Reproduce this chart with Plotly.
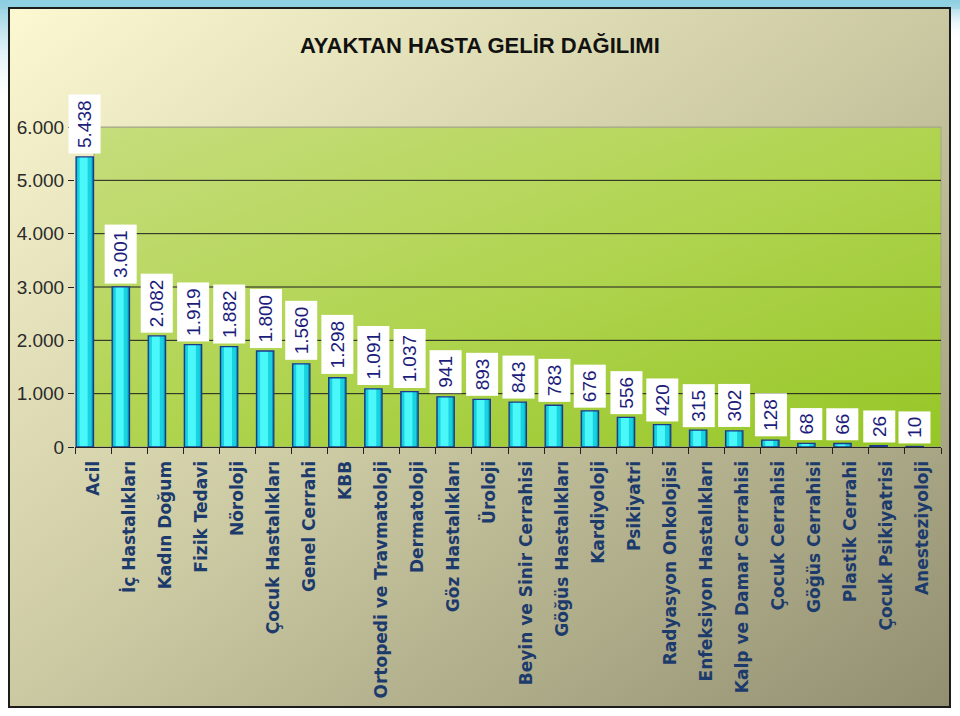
import base64
import plotly.graph_objects as go

categories = ["Acil", "İç Hastalıkları", "Kadın Doğum", "Fizik Tedavi", "Nöroloji",
              "Çocuk Hastalıkları", "Genel Cerrahi", "KBB", "Ortopedi ve Travmatoloji",
              "Dermatoloji", "Göz Hastalıkları", "Üroloji", "Beyin ve Sinir Cerrahisi",
              "Göğüs Hastalıkları", "Kardiyoloji", "Psikiyatri", "Radyasyon Onkolojisi",
              "Enfeksiyon Hastalıkları", "Kalp ve Damar Cerrahisi", "Çocuk Cerrahisi",
              "Göğüs Cerrahisi", "Plastik Cerrahi", "Çocuk Psikiyatrisi", "Anesteziyoloji"]
values = [5438, 3001, 2082, 1919, 1882, 1800, 1560, 1298, 1091, 1037, 941, 893, 843,
          783, 676, 556, 420, 315, 302, 128, 68, 66, 26, 10]
y_ticks = [0, 1000, 2000, 3000, 4000, 5000, 6000]
y_tick_labels = ["0", "1.000", "2.000", "3.000", "4.000", "5.000", "6.000"]
title = "AYAKTAN HASTA GELİR DAĞILIMI"

W, H = 960, 716
PX_L, PX_R, PX_T, PX_B = 75, 941, 127, 447
GREEN_L = 94


def fmt(v):
    return f"{v:,}".replace(",", ".")


svg = f"""<svg xmlns='http://www.w3.org/2000/svg' width='{W}' height='{H}' viewBox='0 0 {W} {H}' preserveAspectRatio='none'>
<defs>
<linearGradient id='bg' x1='0' y1='0' x2='1' y2='1'>
<stop offset='0' stop-color='#fbf8d2'/>
<stop offset='0.5' stop-color='#cbc9a2'/>
<stop offset='1' stop-color='#918f70'/>
</linearGradient>
<linearGradient id='gr' x1='0' y1='0' x2='1' y2='1'>
<stop offset='0' stop-color='#c6dd7c'/>
<stop offset='0.5' stop-color='#b0d450'/>
<stop offset='1' stop-color='#96c626'/>
</linearGradient>
<linearGradient id='bl' x1='0' y1='0' x2='0' y2='1'>
<stop offset='0' stop-color='#8ccde0'/>
<stop offset='1' stop-color='#ffffff' stop-opacity='0'/>
</linearGradient>
</defs>
<rect x='0' y='0' width='{W}' height='{H}' fill='#ffffff'/>
<rect x='0' y='0' width='{W}' height='9' fill='#8fd0e2'/>
<rect x='0' y='0' width='9' height='110' fill='url(#bl)'/>
<rect x='950' y='0' width='10' height='40' fill='url(#bl)'/>
<rect x='9' y='8' width='941' height='699' fill='url(#bg)' stroke='#1c1c1c' stroke-width='2'/>
<rect x='{GREEN_L}' y='{PX_T}' width='{PX_R - GREEN_L}' height='{PX_B - PX_T}' fill='url(#gr)' stroke='#a4a48c' stroke-width='1'/>
</svg>"""
src = "data:image/svg+xml;base64," + base64.b64encode(svg.encode("utf-8")).decode()

fig = go.Figure()

layers = [
    dict(offset=-0.47, width=0.48, color="#0a9cb2"),
    dict(offset=-0.44, width=0.40, color="#18d2e0"),
    dict(offset=-0.37, width=0.22, color="#4af8fa"),
]
for lay in layers:
    fig.add_trace(go.Bar(
        x=categories, y=values, offset=lay["offset"], width=lay["width"],
        marker=dict(color=lay["color"], line=dict(width=0)),
        hoverinfo="skip", showlegend=False))
fig.add_trace(go.Bar(
    x=categories, y=values, offset=-0.47, width=0.48,
    marker=dict(color="rgba(0,0,0,0)", line=dict(width=1.3, color="#1c3a8c")),
    hovertemplate="%{x}: %{y}<extra></extra>", showlegend=False))

shapes = []
for v in y_ticks[1:]:
    shapes.append(dict(type="line", xref="paper", yref="y",
                       x0=GREEN_L / W, x1=PX_R / W, y0=v, y1=v,
                       line=dict(color="#1e1e1e" if v < 6000 else "#a4a48c", width=1),
                       layer="below"))

annotations = []
for c, v in zip(categories, values):
    annotations.append(dict(
        x=c, y=v, xref="x", yref="y", text=fmt(v), showarrow=False,
        textangle=-90, xanchor="center", yanchor="bottom", xshift=-8, yshift=3,
        bgcolor="#ffffff", borderpad=5,
        font=dict(family="Liberation Sans, Arial, sans-serif", size=19, color="#1c1c7c")))
annotations.append(dict(
    x=480 / W, y=1 - 45 / H, xref="paper", yref="paper", text=title, showarrow=False,
    xanchor="center", yanchor="middle",
    font=dict(family="Liberation Sans Narrow, Arial Narrow, Liberation Sans, sans-serif",
              size=22, color="#111111", weight="bold")))

fig.update_layout(
    width=W, height=H, margin=dict(l=0, r=0, t=0, b=0),
    template="none",
    paper_bgcolor="#ffffff", plot_bgcolor="rgba(0,0,0,0)",
    barmode="overlay", showlegend=False,
    images=[dict(source=src, xref="paper", yref="paper", x=0, y=1, sizex=1, sizey=1,
                 xanchor="left", yanchor="top", sizing="stretch", layer="below")],
    shapes=shapes, annotations=annotations,
    xaxis=dict(type="category", domain=[PX_L / W, PX_R / W], automargin=False,
               tickson="boundaries", ticks="outside", ticklen=6, tickcolor="#222222",
               tickwidth=1, showline=True, linecolor="#222222", linewidth=1.2,
               showgrid=False, zeroline=False, tickangle=-90, ticklabelstandoff=6,
               tickfont=dict(family="DejaVu Sans, Verdana, sans-serif", size=17,
                             color="#1c3a6c", weight="bold"),
               range=[-0.5, len(categories) - 0.5], fixedrange=True),
    yaxis=dict(domain=[1 - PX_B / H, 1 - PX_T / H], automargin=False, range=[0, 6000],
               tickvals=y_ticks, ticktext=y_tick_labels, ticks="outside", ticklen=6,
               tickcolor="#222222", showline=False, showgrid=False, zeroline=False,
               tickfont=dict(family="Liberation Sans Narrow, Arial Narrow, Liberation Sans, sans-serif",
                             size=19, color="#2a2a2a"),
               fixedrange=True),
)

fig.write_html("out.html")
